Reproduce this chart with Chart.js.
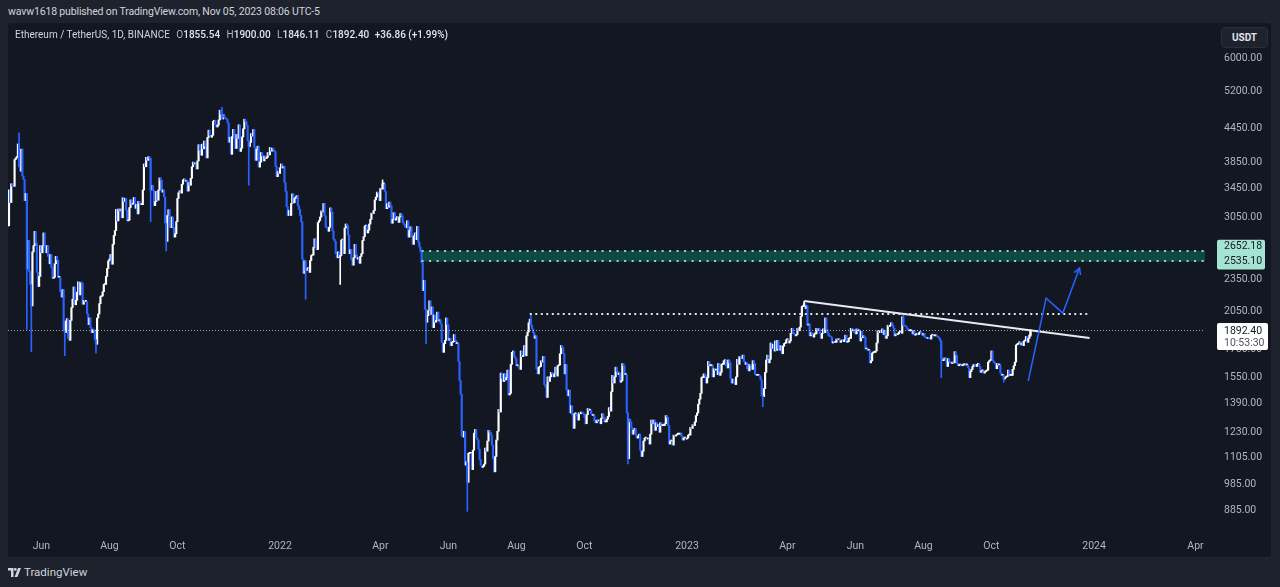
<!DOCTYPE html>
<html>
<head>
<meta charset="utf-8">
<script src="https://cdn.jsdelivr.net/npm/chart.js@4.4.0/dist/chart.umd.min.js"></script>
<style>
  html, body { margin:0; padding:0; width:1280px; height:587px; overflow:hidden; background:#1e222d;
    font-family: Roboto, "Liberation Sans", sans-serif; }
  #title { position:absolute; left:8px; top:5px; color:#d1d4dc; font-size:10.5px; letter-spacing:-0.15px; white-space:nowrap; }
  #panel { position:absolute; left:8px; top:23px; width:1263px; height:534px; background:#131722; border-radius:3px; }
  #chart { position:absolute; left:0; top:0; }
  #legend { position:absolute; left:7px; top:6px; font-size:10px; color:#d1d4dc; white-space:nowrap; }
  #legend .k { color:#b2b5be; margin-left:4px; }
  #legend .v { color:#e0e3eb; font-weight:500; }
  #usdt { position:absolute; left:1213px; top:4px; width:45px; height:19px; border:1px solid #2a2e39; border-radius:4px;
    background:#1e222d; color:#e0e3eb; font-size:10px; font-weight:700; text-align:center; line-height:19px; }
  #footer { position:absolute; left:8px; top:565px; color:#d1d4dc; font-size:11.5px; display:flex; align-items:center; gap:3px; }
</style>
</head>
<body>
<div id="title">wavw1618 published on TradingView.com, Nov 05, 2023 08:06 UTC-5</div>
<div id="panel">
  <canvas id="chart" width="1263" height="534"></canvas>
  <div id="legend">Ethereum / TetherUS, 1D, BINANCE <span class="k">O</span><span class="v">1855.54</span> <span class="k">H</span><span class="v">1900.00</span> <span class="k">L</span><span class="v">1846.11</span> <span class="k">C</span><span class="v">1892.40</span> <span class="v" style="margin-left:3px">+36.86 (+1.99%)</span></div>
  <div id="usdt">USDT</div>
</div>
<div id="footer">
  <svg width="13" height="9" viewBox="0 0 13 9"><path d="M0 0h5.5v9H3V2.5H0z" fill="#d1d4dc"/><circle cx="7.3" cy="1.4" r="1.4" fill="#d1d4dc"/><path d="M10 0h3l-3.6 9H6.6z" fill="#d1d4dc"/></svg>
  <span>TradingView</span>
</div>
<script>
// daily closes, ETH/USDT (BINANCE), starting 2021-05-01
const firstOpen = 2772;
const closes2021 = [
  2945,2950,3431,3253,3522,3490,3484,3902,3928,3952,4169,3785,3715,4079,3640,3587,3280,3380,2460,2770,2430,2300,2100,2640,2710,2880,2740,2420,2280,2380,2710, // may
  2630,2710,2860,2690,2630,2710,2590,2510,2610,2470,2360,2370,2510,2590,2550,2370,2370,2230,2180,2250,1890,1875,1970,1990,1830,1815,1975,2085,2160,2275, // jun
  2110,2150,2225,2325,2200,2320,2315,2115,2150,2140,2140,2030,1940,1995,1915,1875,1900,1895,1820,1785,1995,2030,2120,2185,2190,2230,2300,2300,2380,2460,2540, // jul
  2560,2610,2505,2725,2830,2890,3160,3010,3165,3140,3165,3050,3320,3270,3310,3150,3010,3020,3185,3290,3230,3240,3325,3175,3225,3100,3270,3245,3225,3225,3430, // aug
  3830,3785,3940,3890,3950,3925,3430,3500,3425,3210,3265,3410,3285,3430,3610,3575,3400,3430,3330,2980,2760,3080,3155,2930,2925,3060,2930,2810,2850,3000, // sep
  3310,3390,3420,3385,3515,3580,3590,3560,3575,3415,3540,3500,3605,3785,3860,3830,3845,3750,3880,4155,4060,3975,4165,4085,4220,4130,3930,4285,4420,4325,4290, // oct
  4325,4590,4605,4530,4480,4515,4615,4810,4730,4635,4725,4665,4650,4625,4555,4200,4290,3990,4300,4435,4265,4090,4340,4265,4520,4040,4095,4295,4445,4630, // nov
  4585,4510,4225,4125,4195,4355,4310,4430,4110,3890,4075,4130,3780,3860,4020,3960,3880,3960,3920,3940,4020,3980,4110,4045,4095,4065,4035,3795,3630,3710,3680  // dec
];
const closes2022 = [
  3770,3830,3765,3790,3540,3410,3195,3080,3145,3080,3240,3375,3250,3310,3330,3350,3210,3160,3080,3000,2560,2410,2540,2440,2455,2470,2420,2545,2600,2605,2690, // jan
  2790,2690,2665,2990,3015,3060,3140,3125,3240,3075,2930,2920,2880,2930,3180,3125,2885,2785,2760,2620,2575,2640,2585,2600,2775,2780,2620,2920, // feb
  2970,2950,2835,2620,2665,2555,2495,2575,2725,2610,2560,2575,2515,2590,2620,2770,2815,2945,2950,2860,2895,2970,3030,3110,3105,3145,3290,3330,3400,3385,3280, // mar
  3455,3445,3520,3520,3410,3170,3235,3190,3260,3210,2980,3030,3115,3020,3040,3065,2990,3060,3105,3075,2990,2965,2935,2925,3010,2810,2890,2935,2815,2725, // apr
  2825,2860,2780,2940,2750,2695,2640,2520,2240,2340,2070,1960,2015,2060,2145,2025,2090,1915,2020,1960,1975,2045,1970,1980,1945,1800,1725,1790,1815,1995,1940, // may
  1815,1830,1775,1800,1805,1860,1815,1790,1790,1660,1530,1445,1210,1205,1235,1070,1085,995,1125,1125,1125,1050,1140,1225,1245,1200,1190,1145,1095,1070, // jun
  1060,1065,1075,1150,1135,1185,1240,1230,1215,1165,1100,1040,1110,1190,1235,1355,1340,1580,1545,1525,1575,1535,1550,1600,1440,1450,1640,1725,1735,1695,1680, // jul
  1630,1630,1620,1605,1735,1695,1700,1775,1700,1850,1880,1955,1985,1935,1905,1875,1830,1850,1610,1575,1620,1625,1665,1655,1695,1505,1490,1425,1555,1525,1555, // aug
  1585,1575,1555,1575,1620,1560,1630,1635,1715,1775,1760,1715,1575,1640,1470,1435,1470,1335,1375,1325,1250,1330,1330,1320,1295,1335,1330,1340,1335,1330, // sep
  1310,1275,1325,1360,1350,1350,1330,1320,1320,1290,1280,1295,1290,1295,1275,1305,1330,1310,1285,1285,1300,1315,1365,1345,1460,1565,1515,1555,1620,1590,1570, // oct
  1580,1520,1530,1645,1630,1570,1570,1335,1100,1300,1285,1255,1220,1240,1250,1215,1200,1210,1220,1140,1110,1135,1185,1200,1200,1195,1195,1170,1220,1295, // nov
  1275,1295,1240,1280,1260,1270,1230,1280,1265,1265,1265,1275,1320,1310,1265,1170,1185,1185,1165,1215,1210,1215,1220,1220,1220,1225,1210,1190,1200,1200,1195  // dec
];
const closes2023 = [
  1200,1215,1215,1255,1250,1270,1265,1285,1320,1335,1385,1415,1450,1550,1550,1575,1565,1515,1550,1660,1630,1630,1630,1555,1610,1600,1600,1570,1645,1565,1585, // jan
  1640,1640,1665,1670,1630,1615,1670,1650,1545,1515,1540,1515,1505,1555,1675,1640,1695,1690,1680,1705,1660,1640,1650,1610,1595,1640,1630,1605, // feb
  1665,1645,1570,1565,1565,1565,1560,1535,1435,1430,1480,1585,1670,1705,1650,1675,1795,1755,1785,1735,1810,1740,1815,1750,1740,1775,1715,1770,1790,1795,1820, // mar
  1820,1795,1810,1870,1910,1870,1865,1850,1860,1910,1890,1920,2010,2095,2095,2120,2075,2100,1935,1945,1850,1875,1860,1840,1865,1865,1910,1895,1905,1870, // apr
  1830,1870,1905,1875,1995,1900,1870,1850,1845,1840,1795,1805,1800,1800,1825,1820,1825,1800,1810,1815,1805,1820,1855,1800,1805,1830,1830,1910,1890,1900,1875, // may
  1865,1905,1890,1890,1810,1885,1835,1850,1840,1750,1750,1740,1740,1650,1665,1720,1725,1725,1735,1795,1890,1875,1890,1875,1905,1860,1890,1830,1850,1935, // jun
  1925,1935,1955,1935,1910,1850,1865,1860,1865,1880,1880,1870,2005,1935,1930,1925,1910,1895,1890,1890,1890,1865,1890,1855,1860,1870,1860,1875,1880,1865,1855, // jul
  1870,1840,1835,1830,1835,1830,1825,1855,1855,1850,1850,1850,1845,1840,1830,1810,1685,1665,1670,1685,1670,1625,1680,1660,1650,1645,1655,1650,1730,1705,1645, // aug
  1630,1635,1635,1630,1635,1635,1645,1635,1635,1615,1550,1590,1605,1625,1640,1635,1625,1640,1645,1625,1585,1595,1595,1580,1590,1595,1600,1655,1665,1670, // sep
  1735,1665,1655,1645,1610,1645,1635,1635,1580,1565,1565,1540,1550,1555,1560,1600,1565,1565,1565,1605,1630,1655,1780,1785,1790,1805,1780,1795,1775,1810,1815, // oct
  1845,1800,1830,1855.54,1892.40 // nov
];

// long wicks that stand out in the picture (day, extreme price)
const wickDates  = ['2021-05-12','2021-05-19','2021-05-23','2021-06-22','2021-07-20','2021-09-07','2021-09-21','2021-11-10','2021-12-04','2022-01-24','2022-02-24','2022-04-03','2022-05-12','2022-06-18','2022-08-14','2022-11-09','2023-03-10','2023-04-16','2023-07-14','2023-08-17','2023-10-12','2023-11-05','2023-11-05'];
const wickPrices = [4372,1900,1730,1700,1720,3000,2650,4870,3500,2160,2300,3580,1790,880,2030,1075,1370,2140,2030,1550,1520,1900,1846.11];

const xTickDates  = ['2021-06-01','2021-08-01','2021-10-01','2022-01-01','2022-04-01','2022-06-01','2022-08-01','2022-10-01','2023-01-01','2023-04-01','2023-06-01','2023-08-01','2023-10-01','2024-01-01','2024-04-01'];
const xTickLabels = ['Jun','Aug','Oct','2022','Apr','Jun','Aug','Oct','2023','Apr','Jun','Aug','Oct','2024','Apr'];
const yTickValues = [885,985,1105,1230,1390,1550,1750,2050,2350,2650,3050,3450,3850,4450,5200,6000];

// drawings
const lastPrice = 1892.40, lastTime = '10:53:30';
const zoneStart = '2022-05-08', zoneTop = 2652.18, zoneBottom = 2535.10;
const resistance = { from:'2022-08-13', to:'2023-12-26', price:2030 };
const trendDates = ['2023-04-16','2023-12-28'], trendPrices = [2144, 1833];
const pathDates  = ['2023-11-03','2023-11-19','2023-12-04','2023-12-19'], pathPrices = [1528, 2170, 2037, 2465];

const upColor = '#ffffff', downColor = '#2962ff';
const day0 = Date.UTC(2021, 4, 1);
const dayIndex = s => { const p = s.split('-'); return (Date.UTC(+p[0], p[1]-1, +p[2]) - day0) / 86400000; };

const closes = [...closes2021, ...closes2022, ...closes2023];
const candles = closes.map((c, i) => ({ x: i, y: [i ? closes[i-1] : firstOpen, c] }));
const wicks = wickDates.map((d, k) => {
  const c = candles[dayIndex(d)];
  const lo = Math.min(c.y[0], c.y[1], wickPrices[k]), hi = Math.max(c.y[0], c.y[1], wickPrices[k]);
  return { x: c.x, y: [lo, hi], up: c.y[1] >= c.y[0] };
});
const candleColor = c => (c.raw && (c.raw.up !== undefined ? c.raw.up : c.raw.y[1] >= c.raw.y[0])) ? upColor : downColor;

const overlay = {
  id: 'overlay',
  beforeDatasetsDraw(chart) {
    const { ctx, chartArea: a, scales: { x, y } } = chart;
    const x0 = x.getPixelForValue(dayIndex(zoneStart));
    const yt = y.getPixelForValue(zoneTop), yb = y.getPixelForValue(zoneBottom);
    ctx.save();
    ctx.fillStyle = '#0f4a42';
    ctx.fillRect(x0, yt, a.right - x0, yb - yt);
    ctx.restore();
  },
  afterDatasetsDraw(chart) {
    const { ctx, chartArea: a, scales: { x, y } } = chart;
    ctx.save();
    // zone borders
    const x0 = x.getPixelForValue(dayIndex(zoneStart));
    ctx.strokeStyle = '#8fdcc8'; ctx.lineWidth = 2; ctx.setLineDash([2, 5.5]);
    [zoneTop, zoneBottom].forEach(v => {
      const py = Math.round(y.getPixelForValue(v));
      ctx.beginPath(); ctx.moveTo(x0, py); ctx.lineTo(a.right, py); ctx.stroke();
    });
    // last price
    const lp = Math.round(y.getPixelForValue(lastPrice)) + 0.5;
    ctx.strokeStyle = 'rgba(255,255,255,0.6)'; ctx.lineWidth = 1; ctx.setLineDash([1, 2]);
    ctx.beginPath(); ctx.moveTo(a.left, lp); ctx.lineTo(a.right, lp); ctx.stroke();
    // resistance dots
    const rp = Math.round(y.getPixelForValue(resistance.price));
    ctx.strokeStyle = '#e0e3eb'; ctx.lineWidth = 2; ctx.setLineDash([2, 3.5]);
    ctx.beginPath();
    ctx.moveTo(x.getPixelForValue(dayIndex(resistance.from)), rp);
    ctx.lineTo(x.getPixelForValue(dayIndex(resistance.to)), rp);
    ctx.stroke();
    // trend line
    ctx.setLineDash([]); ctx.lineWidth = 2; ctx.strokeStyle = '#e8eaf0';
    ctx.beginPath();
    trendDates.forEach((d, i) => {
      const px = x.getPixelForValue(dayIndex(d)), py = y.getPixelForValue(trendPrices[i]);
      i ? ctx.lineTo(px, py) : ctx.moveTo(px, py);
    });
    ctx.stroke();
    // projection path with arrow
    ctx.strokeStyle = '#2962ff'; ctx.lineWidth = 1.5;
    const pts = pathDates.map((d, i) => [x.getPixelForValue(dayIndex(d)), y.getPixelForValue(pathPrices[i])]);
    ctx.beginPath();
    pts.forEach((p, i) => i ? ctx.lineTo(p[0], p[1]) : ctx.moveTo(p[0], p[1]));
    ctx.stroke();
    const [ex, ey] = pts[pts.length-1], [px, py] = pts[pts.length-2];
    const ang = Math.atan2(ey - py, ex - px);
    ctx.beginPath();
    ctx.moveTo(ex - 7*Math.cos(ang - 0.5), ey - 7*Math.sin(ang - 0.5));
    ctx.lineTo(ex, ey);
    ctx.lineTo(ex - 7*Math.cos(ang + 0.5), ey - 7*Math.sin(ang + 0.5));
    ctx.stroke();
    ctx.restore();
  },
  afterDraw(chart) {
    const { ctx, chartArea: a, scales: { y } } = chart;
    ctx.save();
    ctx.font = '10.5px Roboto, "Liberation Sans", sans-serif';
    ctx.textBaseline = 'middle'; ctx.textAlign = 'left';
    const tx = a.right + 19;
    // zone price labels
    const yt = y.getPixelForValue(zoneTop), yb = y.getPixelForValue(zoneBottom);
    ctx.fillStyle = '#a5e4d5';
    ctx.beginPath(); ctx.roundRect(a.right + 12, yt - 11, 48, yb - yt + 19, 2); ctx.fill();
    ctx.fillStyle = '#131722';
    ctx.fillText(zoneTop.toFixed(2), tx, yt - 4);
    ctx.fillText(zoneBottom.toFixed(2), tx, yb);
    // last price label
    const lp = y.getPixelForValue(lastPrice);
    ctx.fillStyle = '#ffffff';
    ctx.beginPath(); ctx.roundRect(a.right + 12, lp - 7.5, 51, 27, 2); ctx.fill();
    ctx.fillStyle = '#131722'; ctx.fillText(lastPrice.toFixed(2), tx, lp + 1);
    ctx.fillStyle = '#50535e'; ctx.fillText(lastTime, tx, lp + 13);
    ctx.restore();
  }
};

new Chart(document.getElementById('chart'), {
  type: 'bar',
  data: {
    datasets: [{
      data: wicks,
      backgroundColor: candleColor,
      barThickness: 1,
      grouped: false,
      borderSkipped: false
    }, {
      data: candles,
      backgroundColor: candleColor,
      barThickness: 1.5,
      minBarLength: 1,
      grouped: false,
      borderSkipped: false
    }]
  },
  options: {
    responsive: false,
    animation: false,
    layout: { padding: 0 },
    plugins: { legend: { display: false }, tooltip: { enabled: false } },
    scales: {
      x: {
        type: 'linear', min: 1.1, max: 1074.5, offset: false,
        grid: { display: false, drawTicks: false }, border: { display: false },
        afterBuildTicks: s => { s.ticks = xTickDates.map(d => ({ value: dayIndex(d) })); },
        afterFit: s => { s.height = 28; s.paddingLeft = 0; s.paddingRight = 0; },
        ticks: { autoSkip: false, maxRotation: 0, padding: 11, color: '#b2b5be',
          font: { family: 'Roboto, "Liberation Sans", sans-serif', size: 10.5 },
          callback: (v, i) => xTickLabels[i] }
      },
      y: {
        type: 'logarithmic', position: 'right', min: 816.5, max: 6958,
        grid: { display: false, drawTicks: false }, border: { display: false },
        afterBuildTicks: s => { s.ticks = yTickValues.map(v => ({ value: v })); },
        afterFit: s => { s.width = 66; s.paddingTop = 0; s.paddingBottom = 0; },
        ticks: { padding: 19, color: '#b2b5be',
          font: { family: 'Roboto, "Liberation Sans", sans-serif', size: 10.5 },
          callback: v => Number(v).toFixed(2) }
      }
    }
  },
  plugins: [overlay]
});
</script>
</body>
</html>
